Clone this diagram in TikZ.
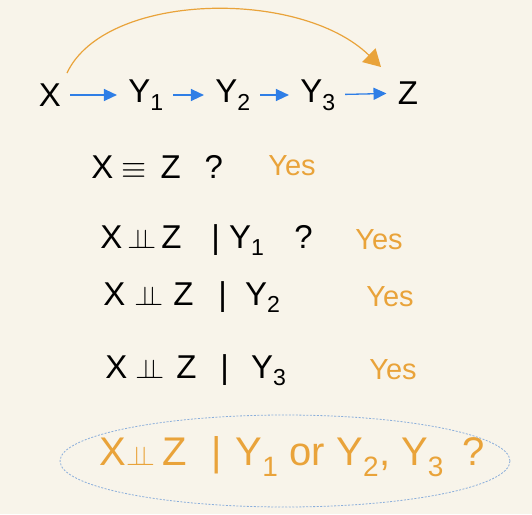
\documentclass[tikz,border=0pt]{standalone}
\usepackage{fontspec}
\setmainfont{Liberation Sans}
\usetikzlibrary{arrows.meta}
\definecolor{paper}{HTML}{F8F4EA}
\definecolor{penorange}{HTML}{E9A33A}
\definecolor{penblue}{HTML}{2F7EE6}
\definecolor{lineblue}{HTML}{8AAEDB}
\newcommand{\indepsym}{\scalebox{1.1}{$\perp\!\!\!\perp$}}
\begin{document}
\begin{tikzpicture}[x=1pt,y=-1pt,thick,var/.style={font=\fontsize{33}{33}\selectfont,inner sep=1pt},stmt/.style={font=\fontsize{33}{33}\selectfont,anchor=west,inner sep=0pt},answer/.style={font=\fontsize{29}{29}\selectfont,text=penorange,anchor=west,inner sep=0pt}]
\tikzstyle{chain edge} = [draw,penblue,line width=1.3pt,-{Triangle[length=13pt,width=12pt]},shorten <=8pt,shorten >=10pt]
\tikzstyle{skip edge} = [draw,penorange,line width=1.2pt,-{Triangle[length=17pt,width=19pt]}]

\useasboundingbox (0,0) rectangle (532,514);
\fill[paper] (0,0) rectangle (532,514);

% chain
\node[var] (x) at (50,95) {X};
\node[var] (y1) at (146,95) {Y\textsubscript{1}};
\node[var] (y2) at (233,95) {Y\textsubscript{2}};
\node[var] (y3) at (318,95) {Y\textsubscript{3}};
\node[var] (z) at (408,93) {Z};

\draw[chain edge] (x) -- (y1);
\draw[chain edge] (y1) -- (y2);
\draw[chain edge] (y2) -- (y3);
\draw[chain edge] (y3) -- (z);

\coordinate (arcstart) at (67,73);
\coordinate (arcend) at (381,67);
\draw[skip edge] (arcstart) .. controls (105,-8) and (300,-12) .. (arcend);

% questions
\node[stmt] (q0) at (91,167) {X\hspace{8pt}\scalebox{1.3}{$\equiv$}\hspace{14pt}Z\hspace{24pt}?};
\node[answer] (a0) at (268,166) {Yes};

\node[stmt] (q1) at (100,240) {X\hspace{5pt}\indepsym\hspace{5pt}Z\hspace{30pt}|\hspace{9pt}Y\textsubscript{1}\hspace{30pt}?};
\node[answer] (a1) at (355,240) {Yes};

\node[stmt] (q2) at (103,297) {X\hspace{9pt}\indepsym\hspace{10pt}Z\hspace{25pt}|\hspace{18pt}Y\textsubscript{2}};
\node[answer] (a2) at (366,297) {Yes};

\node[stmt] (q3) at (105,370) {X\hspace{8pt}\indepsym\hspace{12pt}Z\hspace{24pt}|\hspace{22pt}Y\textsubscript{3}};
\node[answer] (a3) at (369,370) {Yes};

% open question
\node[stmt,anchor=west,text=penorange,font=\fontsize{40}{40}\selectfont] (oq) at (99,457) {X\indepsym\hspace{8pt}Z\hspace{24pt}|\hspace{14pt}Y\textsubscript{1} or Y\textsubscript{2}, Y\textsubscript{3}\hspace{18pt}?};
\draw[lineblue,line width=0.8pt,dash pattern=on 2pt off 1.5pt] (285,461) ellipse [x radius=225,y radius=46];
\end{tikzpicture}
\end{document}
